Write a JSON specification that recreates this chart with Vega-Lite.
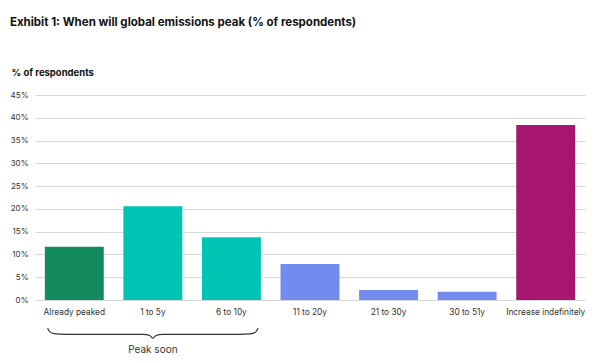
{
  "$schema": "https://vega.github.io/schema/vega-lite/v6.json",
  "width": 550,
  "height": 205,
  "padding": {"left": 9, "top": 16, "right": 5, "bottom": 5},
  "background": "white",
  "title": {
    "text": "Exhibit 1: When will global emissions peak (% of respondents)",
    "anchor": "start",
    "frame": "bounds",
    "font": "Inter",
    "fontSize": 11.5,
    "fontWeight": "bold",
    "color": "#111111",
    "offset": 39
  },
  "config": {"view": {"stroke": null}, "font": "Inter"},
  "datasets": {
    "bars": [
      {"category": "Already peaked", "pct": 11.7},
      {"category": "1 to 5y", "pct": 20.6},
      {"category": "6 to 10y", "pct": 13.8},
      {"category": "11 to 20y", "pct": 7.9},
      {"category": "21 to 30y", "pct": 2.2},
      {"category": "30 to 51y", "pct": 1.8},
      {"category": "Increase indefinitely", "pct": 38.4}
    ],
    "brace": [
      {"bx": 0.16, "by": -6.2},
      {"bx": 0.19, "by": -7.0},
      {"bx": 0.26, "by": -7.45},
      {"bx": 0.40, "by": -7.55},
      {"bx": 1.38, "by": -7.55},
      {"bx": 1.46, "by": -7.8},
      {"bx": 1.5, "by": -8.4},
      {"bx": 1.54, "by": -7.8},
      {"bx": 1.62, "by": -7.55},
      {"bx": 2.60, "by": -7.55},
      {"bx": 2.74, "by": -7.45},
      {"bx": 2.81, "by": -7.0},
      {"bx": 2.84, "by": -6.2}
    ],
    "note": [{"bx": 1.5, "by": -10.9, "label": "Peak soon"}]
  },
  "layer": [
    {
      "data": {"name": "bars"},
      "mark": {"type": "bar"},
      "encoding": {
        "x": {
          "field": "category",
          "type": "nominal",
          "sort": null,
          "scale": {"paddingInner": 0.25, "paddingOuter": 0.125},
          "axis": {
            "title": null,
            "labelAngle": 0,
            "labelFontSize": 8.3,
            "labelColor": "#333333",
            "ticks": false,
            "domain": false,
            "labelPadding": 7
          }
        },
        "y": {
          "field": "pct",
          "type": "quantitative",
          "scale": {"domain": [0, 45], "nice": false},
          "axis": {
            "title": "% of respondents",
            "titleAngle": 0,
            "titleAlign": "left",
            "titleBaseline": "bottom",
            "titleX": -24,
            "titleY": -18,
            "titleFontSize": 9.5,
            "titleFontWeight": "bold",
            "titleColor": "#111111",
            "values": [0, 5, 10, 15, 20, 25, 30, 35, 40, 45],
            "labelExpr": "datum.value + '%'",
            "labelFontSize": 8,
            "labelColor": "#333333",
            "ticks": false,
            "domain": false,
            "labelPadding": 7,
            "gridColor": "#d9d9d9"
          }
        },
        "color": {
          "field": "category",
          "type": "nominal",
          "scale": {
            "domain": ["Already peaked", "1 to 5y", "6 to 10y", "11 to 20y", "21 to 30y", "30 to 51y", "Increase indefinitely"],
            "range": ["#148B5F", "#00C4B3", "#00C4B3", "#728BEE", "#728BEE", "#728BEE", "#A6156F"]
          },
          "legend": null
        }
      }
    },
    {
      "data": {"name": "brace"},
      "mark": {"type": "line", "interpolate": "monotone", "color": "#333333", "strokeWidth": 1.2},
      "encoding": {
        "x": {"field": "bx", "type": "quantitative", "scale": {"domain": [0, 7], "nice": false, "zero": false}, "axis": null},
        "y": {"field": "by", "type": "quantitative", "scale": {"domain": [0, 45], "nice": false}, "axis": null}
      }
    },
    {
      "data": {"name": "note"},
      "mark": {"type": "text", "fontSize": 10, "color": "#333333", "baseline": "middle"},
      "encoding": {
        "x": {"field": "bx", "type": "quantitative", "scale": {"domain": [0, 7], "nice": false, "zero": false}, "axis": null},
        "y": {"field": "by", "type": "quantitative", "scale": {"domain": [0, 45], "nice": false}, "axis": null},
        "text": {"field": "label"}
      }
    }
  ],
  "resolve": {"scale": {"x": "independent", "y": "independent"}}
}
